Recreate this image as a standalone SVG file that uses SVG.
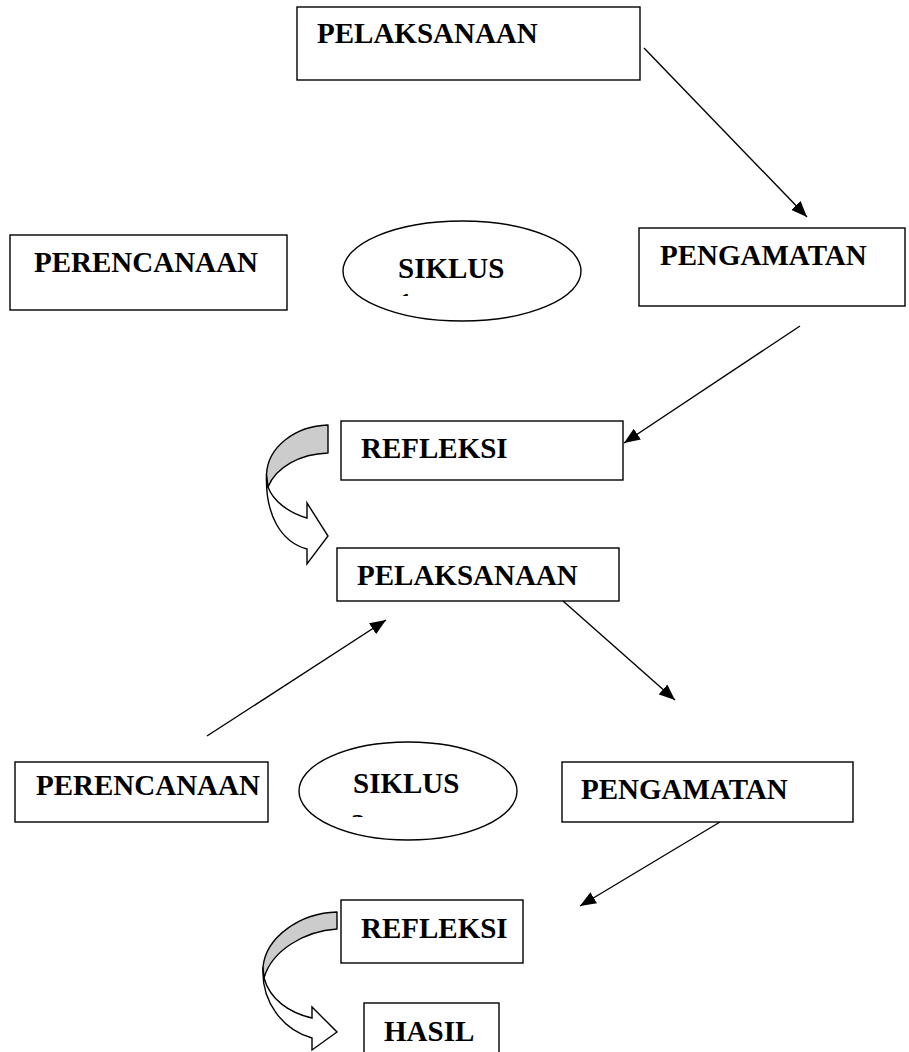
<svg xmlns="http://www.w3.org/2000/svg" width="909" height="1052" viewBox="0 0 909 1052">
<style>
.box{fill:#fff;stroke:#000;stroke-width:1.4}
.ell{fill:#fff;stroke:#000;stroke-width:1.4}
.lbl{font-family:"Liberation Serif","Times New Roman",serif;font-weight:bold;font-size:29px;fill:#000}
.conn{stroke:#000;stroke-width:1.4;fill:none;marker-end:url(#ah)}
.shade{fill:#cccccc;stroke:#000;stroke-width:1.4;stroke-linejoin:round}
.white{fill:#fff;stroke:#000;stroke-width:1.4;stroke-linejoin:miter}
</style>
<defs>
<marker id="ah" markerUnits="userSpaceOnUse" markerWidth="17" markerHeight="13" refX="16" refY="6.5" orient="auto">
<path d="M0,0 L16,6.5 L0,13 z" fill="#000"/>
</marker>
<clipPath id="c1"><rect x="395" y="293" width="20" height="3"/></clipPath>
<clipPath id="c2"><rect x="345" y="812" width="20" height="5"/></clipPath>
</defs>
<rect width="909" height="1052" fill="#fff"/>

<g id="pelaksanaan1">
<rect class="box" x="297" y="7" width="343" height="73"/>
<text class="lbl" x="317" y="43">PELAKSANAAN</text>
</g>
<g id="perencanaan1">
<rect class="box" x="10" y="235" width="277" height="75"/>
<text class="lbl" x="34" y="272">PERENCANAAN</text>
</g>
<g id="siklus1">
<ellipse class="ell" cx="462" cy="271" rx="119" ry="50"/>
<text class="lbl" x="398" y="278">SIKLUS</text>
<text class="lbl" x="398" y="313" clip-path="url(#c1)">1</text>
</g>
<g id="pengamatan1">
<rect class="box" x="639" y="228" width="266" height="78"/>
<text class="lbl" x="660" y="265">PENGAMATAN</text>
</g>
<g id="refleksi1">
<rect class="box" x="341" y="421" width="282" height="59"/>
<text class="lbl" x="361" y="458">REFLEKSI</text>
</g>
<g id="curved1">
<path class="white" d="M266.5,474 C265,515 281,542 307,549 L307,564 L328,536 L307,503 L307,518 C289,513 273,501 268,487 Z"/>
<path class="shade" d="M328,425 L328,453 C300,454 276,467 268,487 L266.5,474 C268,447 295,426 328,425 Z"/>
</g>
<g id="pelaksanaan2">
<rect class="box" x="337" y="548" width="282" height="53"/>
<text class="lbl" x="357" y="585">PELAKSANAAN</text>
</g>
<g id="perencanaan2">
<rect class="box" x="15" y="762" width="253" height="60"/>
<text class="lbl" x="36" y="795">PERENCANAAN</text>
</g>
<g id="siklus2">
<ellipse class="ell" cx="408" cy="791" rx="109" ry="49"/>
<text class="lbl" x="353" y="793">SIKLUS</text>
<text class="lbl" x="351" y="834" clip-path="url(#c2)">2</text>
</g>
<g id="pengamatan2">
<rect class="box" x="562" y="762" width="291" height="60"/>
<text class="lbl" x="581" y="799">PENGAMATAN</text>
</g>
<g id="refleksi2">
<rect class="box" x="341" y="900" width="182" height="63"/>
<text class="lbl" x="361" y="938">REFLEKSI</text>
</g>
<g id="curved2">
<path class="white" d="M263,967 C261,1002 283,1030 312,1038 L312,1050 L337,1032 L312,1007 L312,1018 C290,1013 270,1000 264,978 Z"/>
<path class="shade" d="M337,912 L337,929 C305,931 272,950 264,978 L263,967 C266,937 300,913 337,912 Z"/>
</g>
<g id="hasil">
<rect class="box" x="364" y="1003" width="135" height="60"/>
<text class="lbl" x="384" y="1041">HASIL</text>
</g>

<g id="connectors">
<line class="conn" x1="644" y1="48" x2="807" y2="217"/>
<line class="conn" x1="800" y1="326" x2="624" y2="443"/>
<line class="conn" x1="207" y1="736" x2="386" y2="620"/>
<line class="conn" x1="563" y1="601" x2="675" y2="700"/>
<line class="conn" x1="720" y1="822" x2="580" y2="906"/>
</g>
</svg>
